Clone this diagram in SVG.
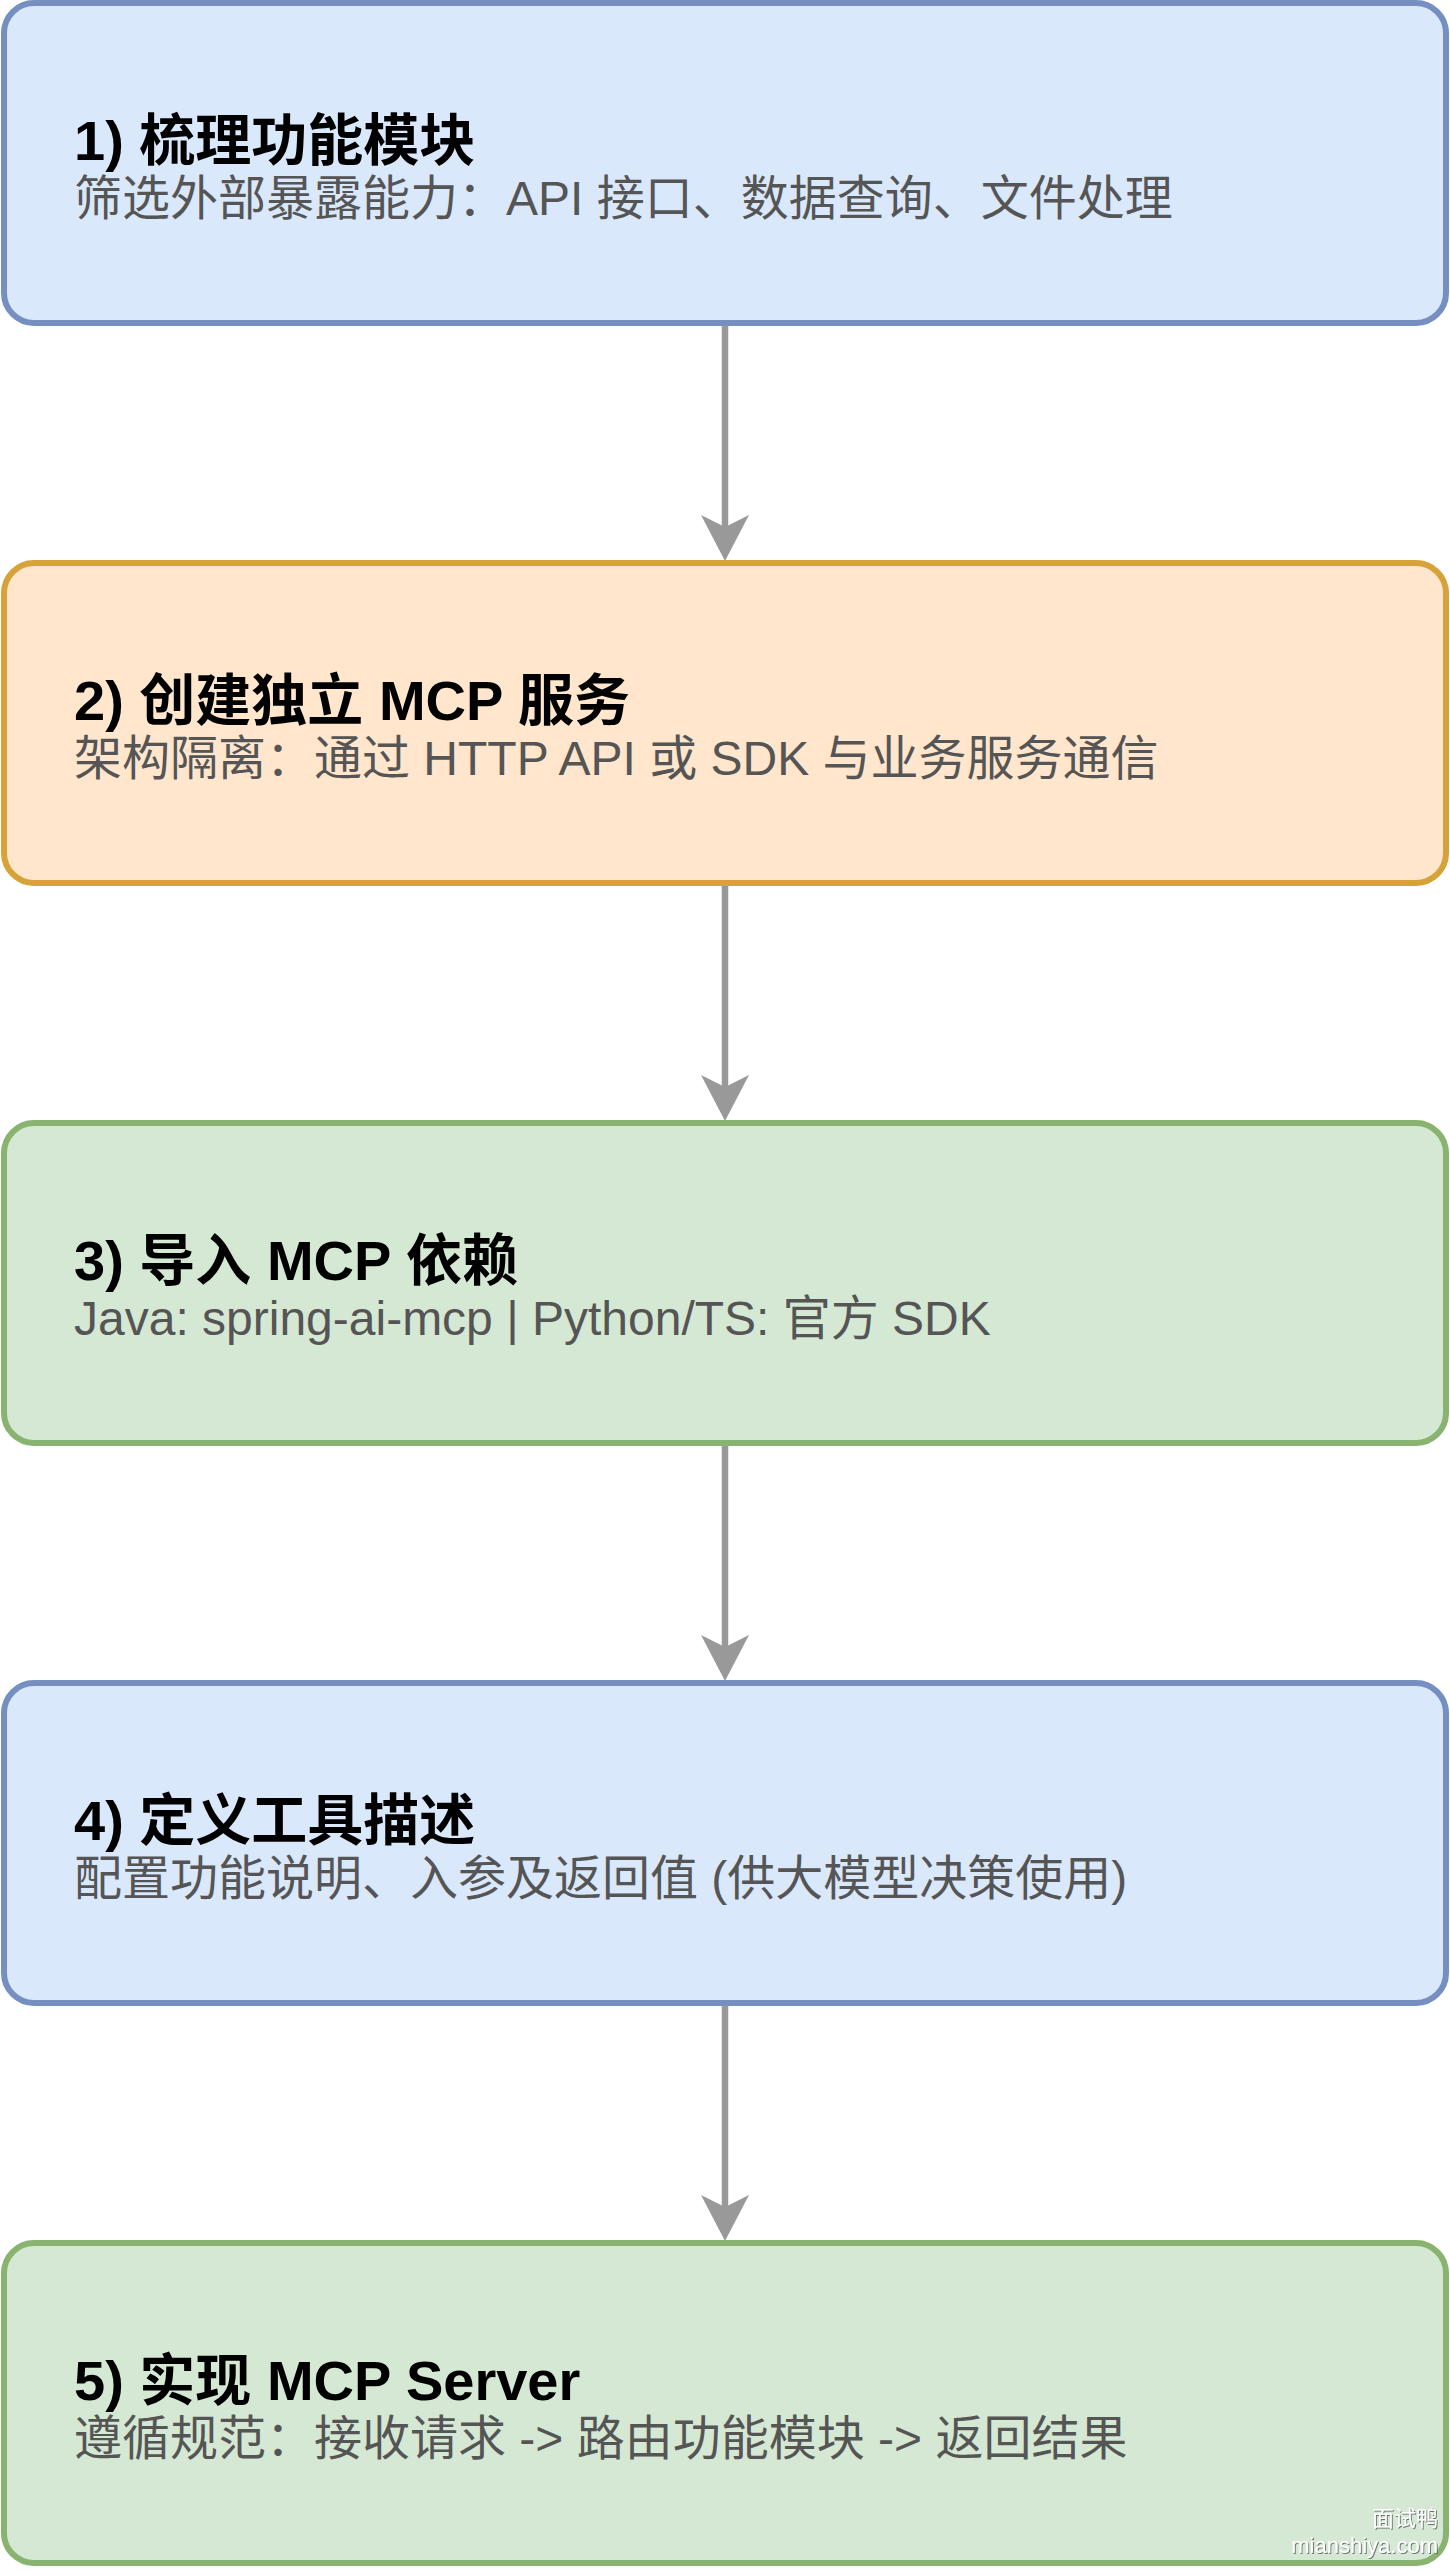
<svg xmlns="http://www.w3.org/2000/svg" width="1450" height="2570" viewBox="0 0 1450 2570">
<defs>
<style>
.box{stroke-width:6}
.blue{fill:#dae8fc;stroke:#7590c0}
.orange{fill:#ffe6cc;stroke:#d6a23a}
.green{fill:#d5e8d4;stroke:#88b370}
.title{font-family:"Liberation Sans","Noto Sans CJK SC",sans-serif;font-size:56px;font-weight:bold;fill:#000000}
.sub{font-family:"Liberation Sans","Noto Sans CJK SC",sans-serif;font-size:48px;fill:#555555}
.edge{stroke:#999999;stroke-width:6.5;fill:none}
.head{fill:#999999;stroke:none}
.wm{font-family:"Liberation Sans","Noto Sans CJK SC",sans-serif;font-size:22px;fill:#ffffff;text-anchor:end}
</style>
<filter id="wmshadow" x="-10%" y="-30%" width="120%" height="160%">
<feDropShadow dx="1" dy="1" stdDeviation="0.6" flood-color="#555555" flood-opacity="0.8"/>
</filter>
</defs>
<rect width="1450" height="2570" fill="#ffffff"/>
<g id="connectors">
<line class="edge" x1="725" y1="326" x2="725" y2="530"/>
<polygon class="head" points="701,515 725,527 749,515 725,561"/>
<line class="edge" x1="725" y1="886" x2="725" y2="1090"/>
<polygon class="head" points="701,1075 725,1087 749,1075 725,1121"/>
<line class="edge" x1="725" y1="1446" x2="725" y2="1650"/>
<polygon class="head" points="701,1635 725,1647 749,1635 725,1681"/>
<line class="edge" x1="725" y1="2006" x2="725" y2="2210"/>
<polygon class="head" points="701,2195 725,2207 749,2195 725,2241"/>
</g>
<g id="node1">
<rect class="box blue" x="4" y="3" width="1442" height="320" rx="30"/>
<text class="title" x="74" y="160">1) 梳理功能模块</text>
<text class="sub" x="74" y="215">筛选外部暴露能力：API 接口、数据查询、文件处理</text>
</g>
<g id="node2">
<rect class="box orange" x="4" y="563" width="1442" height="320" rx="30"/>
<text class="title" x="74" y="720">2) 创建独立 MCP 服务</text>
<text class="sub" x="74" y="775">架构隔离：通过 HTTP API 或 SDK 与业务服务通信</text>
</g>
<g id="node3">
<rect class="box green" x="4" y="1123" width="1442" height="320" rx="30"/>
<text class="title" x="74" y="1280">3) 导入 MCP 依赖</text>
<text class="sub" x="74" y="1335">Java: spring-ai-mcp | Python/TS: 官方 SDK</text>
</g>
<g id="node4">
<rect class="box blue" x="4" y="1683" width="1442" height="320" rx="30"/>
<text class="title" x="74" y="1840">4) 定义工具描述</text>
<text class="sub" x="74" y="1895">配置功能说明、入参及返回值 (供大模型决策使用)</text>
</g>
<g id="node5">
<rect class="box green" x="4" y="2243" width="1442" height="320" rx="30"/>
<text class="title" x="74" y="2400">5) 实现 MCP Server</text>
<text class="sub" x="74" y="2455">遵循规范：接收请求 -&gt; 路由功能模块 -&gt; 返回结果</text>
</g>
<g id="watermark" filter="url(#wmshadow)">
<text class="wm" x="1438" y="2526">面试鸭</text>
<text class="wm" x="1438" y="2553">mianshiya.com</text>
</g>
</svg>
